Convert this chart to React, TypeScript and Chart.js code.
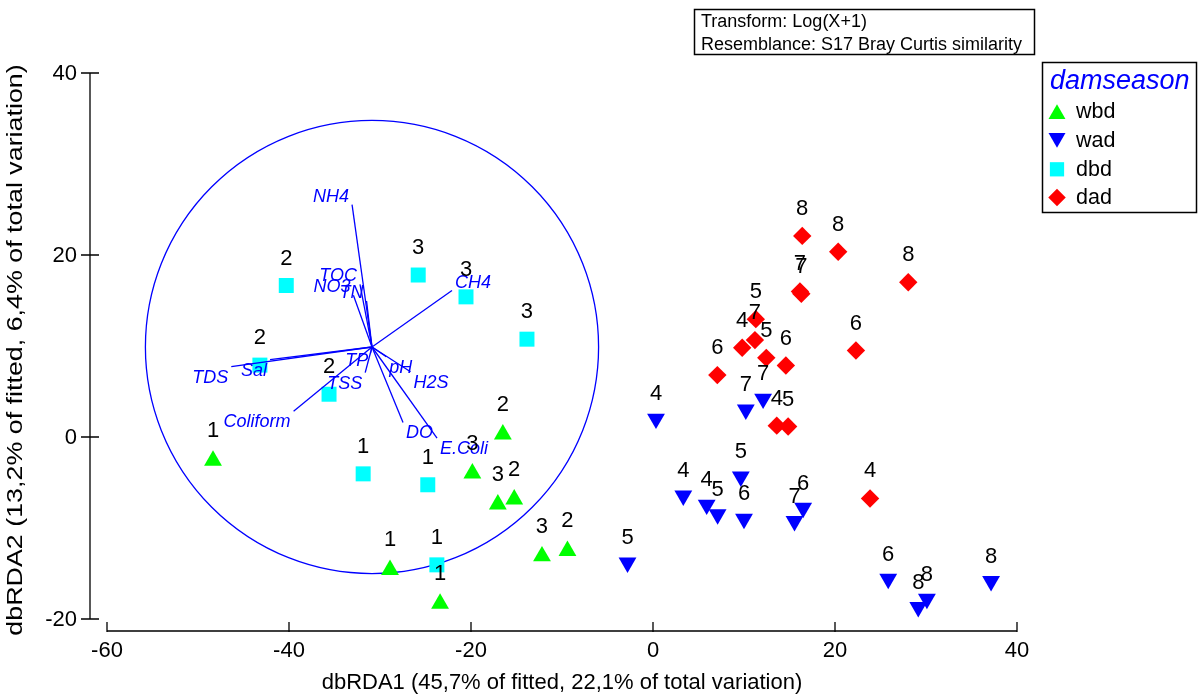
import React, { useEffect, useRef } from 'react';
import { Chart, registerables } from 'chart.js';

Chart.register(...registerables);

const FONT = '"Liberation Sans", Arial, Helvetica, sans-serif';
const BLUE = '#0000FF';

// Axis ticks
const xTicks = [-60, -40, -20, 0, 20, 40];
const yTicks = [-20, 0, 20, 40];
const xTitle = 'dbRDA1 (45,7% of fitted, 22,1% of total variation)';
const yTitle = 'dbRDA2 (13,2% of fitted, 6,4% of total variation)';
const infoLines = ['Transform: Log(X+1)', 'Resemblance: S17 Bray Curtis similarity'];
const legendTitle = 'damseason';

// Group wbd (green up-triangles)
const wbdX = [-48.35, -28.9, -23.4, -16.5, -19.85, -17.05, -15.25, -12.2, -9.4];
const wbdY = [-2.6, -14.6, -18.3, 0.3, -4.0, -7.4, -6.85, -13.1, -12.5];
const wbdLabels = ['1', '1', '1', '2', '3', '3', '2', '3', '2'];

// Group wad (blue down-triangles)
const wadX = [0.33, -2.8, 10.2, 12.1, 3.33, 5.9, 7.1, 9.65, 10.0, 15.55, 16.5, 25.85, 29.15, 30.1, 37.15];
const wadY = [2.0, -13.8, 3.0, 4.2, -6.45, -7.45, -8.5, -4.35, -9.0, -9.25, -7.8, -15.6, -18.7, -17.8, -15.85];
const wadLabels = ['4', '5', '7', '7', '4', '4', '5', '5', '6', '7', '6', '6', '8', '8', '8'];

// Group dbd (cyan squares)
const dbdX = [-40.3, -25.8, -20.55, -13.85, -43.2, -35.6, -31.85, -24.75, -23.75];
const dbdY = [16.65, 17.8, 15.4, 10.75, 7.9, 4.7, -4.05, -5.25, -14.05];
const dbdLabels = ['2', '3', '3', '3', '2', '2', '1', '1', '1'];

// Group dad (red diamonds)
const dadX = [7.07, 9.8, 11.3, 11.2, 12.45, 14.6, 13.6, 14.85, 22.3, 23.85, 16.15, 16.3, 16.4, 20.35, 28.05];
const dadY = [6.8, 9.8, 12.95, 10.65, 8.7, 7.85, 1.25, 1.15, 9.5, -6.75, 16.0, 15.75, 22.1, 20.35, 17.0];
const dadLabels = ['6', '4', '5', '7', '5', '6', '4', '5', '6', '4', '7', '7', '8', '8', '8'];

// Predictor vectors (correlations, relative to the circle radius)
const vectorNames = ['NH4', 'TOC', 'NO3', 'TN', 'CH4', 'TDS', 'Sal', 'Coliform', 'TP', 'TSS', 'pH', 'H2S', 'DO', 'E.Coli'];
const vectorX = [-0.088, -0.053, -0.082, -0.024, 0.353, -0.621, -0.45, -0.346, -0.003, -0.03, 0.063, 0.17, 0.137, 0.287];
const vectorY = [0.628, 0.276, 0.228, 0.203, 0.249, -0.087, -0.056, -0.284, -0.012, -0.113, -0.043, -0.109, -0.333, -0.402];
const circleCenterX = -30.88;
const circleCenterY = 9.89;
const circleRadius = 24.9;

const groups = [
  { name: 'wbd', xs: wbdX, ys: wbdY, labels: wbdLabels, color: '#00FF00', style: 'triangle', rotation: 0, radius: 10.3, labelOffset: 29.5 },
  { name: 'wad', xs: wadX, ys: wadY, labels: wadLabels, color: '#0000FF', style: 'triangle', rotation: 180, radius: 10.3, labelOffset: 24.5 },
  { name: 'dbd', xs: dbdX, ys: dbdY, labels: dbdLabels, color: '#00FFFF', style: 'rect', rotation: 0, radius: 10.6, labelOffset: 27 },
  { name: 'dad', xs: dadX, ys: dadY, labels: dadLabels, color: '#FF0000', style: 'rectRot', rotation: 0, radius: 9.2, labelOffset: 27 },
];

function drawMarker(ctx: CanvasRenderingContext2D, style: string, rotation: number, x: number, y: number, r: number, color: string) {
  ctx.save();
  ctx.fillStyle = color;
  ctx.beginPath();
  if (style === 'triangle') {
    let rad = (rotation * Math.PI) / 180;
    ctx.moveTo(x + Math.sin(rad) * r, y - Math.cos(rad) * r);
    rad += (2 * Math.PI) / 3;
    ctx.lineTo(x + Math.sin(rad) * r, y - Math.cos(rad) * r);
    rad += (2 * Math.PI) / 3;
    ctx.lineTo(x + Math.sin(rad) * r, y - Math.cos(rad) * r);
  } else if (style === 'rect') {
    const s = r * Math.SQRT1_2;
    ctx.rect(x - s, y - s, 2 * s, 2 * s);
  } else {
    ctx.moveTo(x, y - r);
    ctx.lineTo(x + r, y);
    ctx.lineTo(x, y + r);
    ctx.lineTo(x - r, y);
  }
  ctx.closePath();
  ctx.fill();
  ctx.restore();
}

const overlayPlugin = {
  id: 'overlay',
  beforeDatasetsDraw(chart: any) {
    const ctx = chart.ctx as CanvasRenderingContext2D;
    const xs = chart.scales.x;
    const ys = chart.scales.y;
    const cx = xs.getPixelForValue(circleCenterX);
    const cy = ys.getPixelForValue(circleCenterY);
    const r = xs.getPixelForValue(circleCenterX + circleRadius) - cx;
    ctx.save();
    ctx.strokeStyle = BLUE;
    ctx.lineWidth = 1.3;
    ctx.beginPath();
    ctx.arc(cx, cy, r, 0, Math.PI * 2);
    ctx.stroke();
    ctx.restore();
  },
  afterDatasetsDraw(chart: any) {
    const ctx = chart.ctx as CanvasRenderingContext2D;
    const xs = chart.scales.x;
    const ys = chart.scales.y;
    ctx.save();

    // Axes (detached, drawn offset from the plotting region)
    ctx.strokeStyle = '#000';
    ctx.fillStyle = '#000';
    ctx.lineWidth = 1.3;
    const yAxisX = xs.left - 17;
    const xAxisY = ys.bottom + 12;
    ctx.beginPath();
    ctx.moveTo(yAxisX, ys.getPixelForValue(yTicks[yTicks.length - 1]));
    ctx.lineTo(yAxisX, ys.getPixelForValue(yTicks[0]));
    ctx.moveTo(xs.getPixelForValue(xTicks[0]), xAxisY);
    ctx.lineTo(xs.getPixelForValue(xTicks[xTicks.length - 1]), xAxisY);
    for (const t of yTicks) {
      const py = ys.getPixelForValue(t);
      ctx.moveTo(yAxisX - 9, py);
      ctx.lineTo(yAxisX + 9, py);
    }
    for (const t of xTicks) {
      const px = xs.getPixelForValue(t);
      ctx.moveTo(px, xAxisY - 9);
      ctx.lineTo(px, xAxisY + 1);
    }
    ctx.stroke();

    ctx.font = `22px ${FONT}`;
    ctx.textAlign = 'right';
    ctx.textBaseline = 'middle';
    for (const t of yTicks) {
      ctx.fillText(String(t), yAxisX - 13, ys.getPixelForValue(t) + 1);
    }
    ctx.textAlign = 'center';
    ctx.textBaseline = 'top';
    for (const t of xTicks) {
      ctx.fillText(String(t), xs.getPixelForValue(t), xAxisY + 9);
    }

    // Axis titles
    ctx.font = `22px ${FONT}`;
    ctx.textAlign = 'center';
    ctx.textBaseline = 'middle';
    ctx.fillText(xTitle, (xs.getPixelForValue(xTicks[0]) + xs.getPixelForValue(xTicks[xTicks.length - 1])) / 2, 683);
    ctx.save();
    ctx.translate(16, 350);
    ctx.rotate(-Math.PI / 2);
    ctx.scale(1.22, 1);
    ctx.fillText(yTitle, 0, 0);
    ctx.restore();

    // Vector labels
    const ox = xs.getPixelForValue(circleCenterX);
    const oy = ys.getPixelForValue(circleCenterY);
    ctx.font = `italic 18px ${FONT}`;
    ctx.fillStyle = BLUE;
    ctx.textBaseline = 'alphabetic';
    vectorNames.forEach((name, i) => {
      const ex = xs.getPixelForValue(circleCenterX + vectorX[i] * circleRadius);
      const ey = ys.getPixelForValue(circleCenterY + vectorY[i] * circleRadius);
      const dx = ex - ox;
      const dy = ey - oy;
      ctx.textAlign = dx < 0 ? 'right' : 'left';
      const tx = ex + (dx < 0 ? -3 : 3);
      const ty = dy < 0 ? ey - 3 : ey + 16;
      ctx.fillText(name, tx, ty);
    });

    // Point labels
    ctx.font = `22px ${FONT}`;
    ctx.fillStyle = '#000';
    ctx.textAlign = 'center';
    ctx.textBaseline = 'middle';
    groups.forEach((g, gi) => {
      const meta = chart.getDatasetMeta(gi);
      meta.data.forEach((el: any, j: number) => {
        ctx.fillText(g.labels[j], el.x, el.y - g.labelOffset);
      });
    });

    // Info box
    ctx.lineWidth = 1.5;
    ctx.strokeStyle = '#000';
    ctx.strokeRect(694.5, 9.5, 340, 45);
    ctx.font = `18px ${FONT}`;
    ctx.textAlign = 'left';
    ctx.textBaseline = 'alphabetic';
    ctx.fillText(infoLines[0], 701, 27);
    ctx.fillText(infoLines[1], 701, 50);

    // Legend box
    ctx.strokeRect(1042.5, 62.5, 154, 150);
    ctx.font = `italic 27px ${FONT}`;
    ctx.fillStyle = BLUE;
    ctx.textBaseline = 'middle';
    ctx.fillText(legendTitle, 1050, 81);
    ctx.font = `21.5px ${FONT}`;
    const itemY = [111.5, 140.5, 169.3, 197.5];
    groups.forEach((g, gi) => {
      const yy = itemY[gi];
      const my = g.style === 'triangle' ? yy + (g.rotation ? -2.5 : 2.5) : yy;
      drawMarker(ctx, g.style, g.rotation, 1057, my, g.radius * 0.95, g.color);
      ctx.fillStyle = '#000';
      ctx.fillText(g.name, 1076, yy + 1);
    });

    ctx.restore();
  },
};

export default function App() {
  const ref = useRef<HTMLCanvasElement | null>(null);

  useEffect(() => {
    if (!ref.current) return;
    const pointSets = groups.map((g) => ({
      label: g.name,
      data: g.xs.map((x, i) => ({ x, y: g.ys[i] })),
      pointStyle: g.style,
      rotation: g.rotation,
      pointRadius: g.radius,
      pointBackgroundColor: g.color,
      pointBorderColor: g.color,
      pointBorderWidth: 0,
      backgroundColor: g.color,
      borderColor: g.color,
      showLine: false,
      order: 1,
    }));
    const vectorSets = vectorNames.map((name, i) => ({
      label: name,
      data: [
        { x: circleCenterX, y: circleCenterY },
        { x: circleCenterX + vectorX[i] * circleRadius, y: circleCenterY + vectorY[i] * circleRadius },
      ],
      showLine: true,
      borderColor: BLUE,
      borderWidth: 1.3,
      pointRadius: 0,
      fill: false,
      order: 0,
    }));
    const chart = new Chart(ref.current, {
      type: 'scatter',
      data: { datasets: [...pointSets, ...vectorSets] as any },
      options: {
        animation: false,
        responsive: false,
        devicePixelRatio: 1,
        layout: { padding: { left: 107, right: 183, top: 73, bottom: 76 } },
        scales: {
          x: { type: 'linear', min: -60, max: 40, display: false },
          y: { type: 'linear', min: -20, max: 40, display: false },
        },
        plugins: {
          legend: { display: false },
          tooltip: { enabled: false },
        },
        events: [],
      },
      plugins: [overlayPlugin],
    });
    return () => chart.destroy();
  }, []);

  return (
    <div style={{ position: 'fixed', left: 0, top: 0, width: 1200, height: 695, background: '#fff' }}>
      <canvas ref={ref} width={1200} height={695} style={{ display: 'block', width: 1200, height: 695 }} />
    </div>
  );
}
